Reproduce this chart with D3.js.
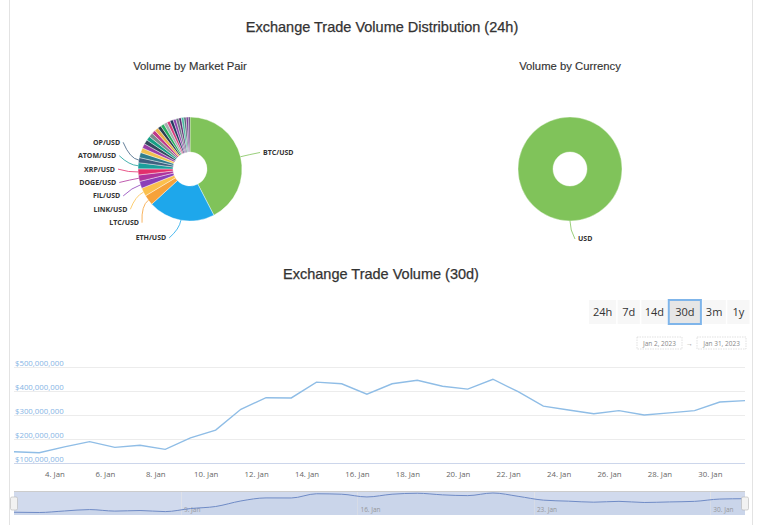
<!DOCTYPE html>
<html lang="en">
<head>
<meta charset="utf-8">
<title>Exchange Trade Volume</title>
<script src="https://cdn.jsdelivr.net/npm/d3@7"></script>
<style>
  body { margin: 0; background: #fff; }
  svg { display: block; font-family: "Open Sans", "Liberation Sans", sans-serif; }
  .title { font-family: "Liberation Sans", Arial, sans-serif; fill: #333; }
  .plabel { font-size: 7px; font-weight: bold; fill: #333; }
</style>
</head>
<body>
<script>
// ---- data ----
var pairNames = ["BTC/USD", "ETH/USD", "LTC/USD", "LINK/USD", "FIL/USD", "DOGE/USD", "XRP/USD", "ATOM/USD", "OP/USD",
  "SOL/USD", "MATIC/USD", "ADA/USD", "DOT/USD", "AVAX/USD", "SHIB/USD", "UNI/USD", "APE/USD", "AAVE/USD", "ALGO/USD",
  "BCH/USD", "XLM/USD", "EOS/USD", "XTZ/USD", "MKR/USD", "COMP/USD", "CRV/USD", "SNX/USD", "GRT/USD", "BAT/USD"];
var pairShare = [42.5, 20.8, 3.2, 2.6, 2.2, 2.0, 1.9, 1.9, 1.6,
  1.6, 1.5, 1.4, 1.4, 1.3, 1.3, 1.2, 1.2, 1.1, 1.1, 1.1, 1.0, 1.0, 0.9, 0.9, 0.8, 0.8, 0.7, 0.7, 0.5];
var pairColors = ["#80c35a", "#1ea7eb", "#f6a23a", "#fbc04d", "#8c3fb8", "#b0349c", "#e22f6c", "#1b9e9b", "#3e5f80",
  "#2f7d8c", "#f2c14e", "#9b3fa6", "#34495e", "#16a085", "#7f8c8d", "#c0398a", "#e8b04a", "#2c3e50", "#27ae60",
  "#a5aeb0", "#d63a7a", "#1f3a5f", "#8e44ad", "#6c7a89", "#5b2c6f", "#48b9a0", "#566573", "#7d3c98", "#4a3b6b"];
var labelledPairs = 9;

var currencyNames = ["USD"];
var currencyShare = [100];
var currencyColors = ["#80c35a"];

var days = d3.range(2, 32);   // Jan 2 .. Jan 31, 2023
var volume = [147, 143, 167, 189, 165, 174, 157, 205, 237, 324, 372, 371, 437, 430, 387, 430, 445, 420, 408, 449,
  397, 337, 321, 305, 318, 300, 309, 318, 354, 360].map(function(v) { return v * 1e6; });
var yTicks = [100e6, 200e6, 300e6, 400e6, 500e6];
var rangeButtons = ["24h", "7d", "14d", "30d", "3m", "1y"];
var selectedButton = "30d";

var dataset = days.map(function(d, i) {
  return { date: new Date(2023, 0, d, 9), value: volume[i] };
});

// ---- canvas ----
var w = 768, h = 525;
var svg = d3.select("body").append("svg").attr("width", w).attr("height", h);

// frame lines
svg.append("line").attr("x1", 9.5).attr("x2", 9.5).attr("y1", 0).attr("y2", h).attr("stroke", "#e3e3e3");
svg.append("line").attr("x1", 752.5).attr("x2", 752.5).attr("y1", 0).attr("y2", h).attr("stroke", "#e3e3e3");

svg.append("text").attr("class", "title").attr("x", 382).attr("y", 32).attr("text-anchor", "middle")
  .style("font-size", "14.5px").style("stroke", "#333").style("stroke-width", 0.25)
  .text("Exchange Trade Volume Distribution (24h)");
svg.append("text").attr("class", "title").attr("x", 190).attr("y", 70).attr("text-anchor", "middle")
  .style("font-size", "11.3px").style("stroke", "#333").style("stroke-width", 0.15)
  .text("Volume by Market Pair");
svg.append("text").attr("class", "title").attr("x", 570).attr("y", 70).attr("text-anchor", "middle")
  .style("font-size", "11.3px").style("stroke", "#333").style("stroke-width", 0.15)
  .text("Volume by Currency");
svg.append("text").attr("class", "title").attr("x", 381).attr("y", 279).attr("text-anchor", "middle")
  .style("font-size", "14.5px").style("stroke", "#333").style("stroke-width", 0.25)
  .text("Exchange Trade Volume (30d)");

// ---- donut helper ----
function drawDonut(cx, cy, names, values, colors, nLabels) {
  var r = 52, r0 = 17, R = 70, Rx = 72, spacing = 13.4;
  var pie = d3.pie().sort(null).value(function(d) { return d; });
  var arcs = pie(values);
  var arc = d3.arc().innerRadius(r0).outerRadius(r);
  var g = svg.append("g").attr("transform", "translate(" + cx + "," + cy + ")");

  g.selectAll("path.slice").data(arcs).enter().append("path")
    .attr("class", "slice")
    .attr("d", arc)
    .attr("fill", function(d, i) { return colors[i]; })
    .attr("stroke", "#fff").attr("stroke-width", 0.4);

  // label layout
  var labels = arcs.slice(0, nLabels).map(function(d, i) {
    var a = (d.startAngle + d.endAngle) / 2;
    return { name: names[i], color: colors[i], a: a, left: a > Math.PI + 1e-6, y: -Math.cos(a) * R };
  });

  [true, false].forEach(function(side) {
    var list = labels.filter(function(l) { return l.left === side; })
      .sort(function(p, q) { return p.y - q.y; });
    // group overlapping labels around the mean of their natural positions
    var groups = list.map(function(l) { return { items: [l], mean: l.y }; });
    var merged = true;
    while (merged) {
      merged = false;
      for (var i = 0; i < groups.length - 1; i++) {
        var A = groups[i], B = groups[i + 1];
        var aEnd = A.mean + (A.items.length - 1) * spacing / 2;
        var bStart = B.mean - (B.items.length - 1) * spacing / 2;
        if (bStart - aEnd < spacing) {
          var items = A.items.concat(B.items);
          var m = d3.mean(items, function(l) { return l.y; });
          groups.splice(i, 2, { items: items, mean: m });
          merged = true;
          break;
        }
      }
    }
    groups.forEach(function(gr) {
      var top = gr.mean - (gr.items.length - 1) * spacing / 2;
      gr.items.forEach(function(l, k) { l.ly = top + k * spacing; });
    });
  });

  labels.forEach(function(l) {
    var dy = Math.max(-Rx * 0.99, Math.min(Rx * 0.99, l.ly));
    // a label straight below the hole stays close to the centre line
    var half = Math.sqrt(Rx * Rx - dy * dy);
    if (Math.abs(Math.sin(l.a)) < 0.05) half = 5;
    var lx = (l.left ? -1 : 1) * half;
    var sx = Math.sin(l.a) * r, sy = -Math.cos(l.a) * r;
    var bx = Math.sin(l.a) * (r + 9), by = -Math.cos(l.a) * (r + 9);
    g.append("path")
      .attr("d", "M" + sx + "," + sy + "Q" + bx + "," + by + " " + lx + "," + l.ly)
      .attr("fill", "none").attr("stroke", l.color).attr("stroke-width", 0.8);
    g.append("text").attr("class", "plabel")
      .attr("x", lx + (l.left ? -3 : 3)).attr("y", l.ly).attr("dy", "0.35em")
      .attr("text-anchor", l.left ? "end" : "start")
      .text(l.name);
  });
}

drawDonut(190, 169, pairNames, pairShare, pairColors, labelledPairs);
drawDonut(570, 169, currencyNames, currencyShare, currencyColors, 1);

// ---- range selector ----
var btnWidths = { "24h": 1.15, "7d": 0.95, "14d": 1.1, "30d": 1.35, "3m": 1.0, "1y": 0.95 };
var totalW = d3.sum(rangeButtons, function(b) { return btnWidths[b]; });
var bx0 = 589;
rangeButtons.forEach(function(b) {
  var bw = btnWidths[b] / totalW * 162 - 1.5;
  var sel = b === selectedButton;
  svg.append("rect").attr("x", bx0).attr("y", 300).attr("width", bw).attr("height", 24)
    .attr("fill", sel ? "#e6e6e6" : "#f7f7f7")
    .attr("stroke", sel ? "#7fb5ea" : "none").attr("stroke-width", sel ? 2 : 0);
  svg.append("text").attr("x", bx0 + bw / 2).attr("y", 316).attr("text-anchor", "middle")
    .style("font-size", "11px").style("fill", "#333").text(b);
  bx0 += bw + 1.5;
});

var fmtInput = d3.timeFormat("%b %-d, %Y");
var inputs = [
  { x: 637, w: 45, text: fmtInput(dataset[0].date) },
  { x: 697, w: 49, text: fmtInput(dataset[dataset.length - 1].date) }
];
inputs.forEach(function(inp) {
  svg.append("rect").attr("x", inp.x).attr("y", 337).attr("width", inp.w).attr("height", 12)
    .attr("fill", "#fff").attr("stroke", "#ccc").attr("stroke-width", 0.6).attr("stroke-dasharray", "1.5,1");
  svg.append("text").attr("x", inp.x + inp.w / 2).attr("y", 345.5).attr("text-anchor", "middle")
    .style("font-size", "6.5px").style("fill", "#888").text(inp.text);
});
svg.append("text").attr("x", 689.5).attr("y", 345.5).attr("text-anchor", "middle")
  .style("font-size", "7px").style("fill", "#999").text("→");

// ---- main line chart ----
var x0 = 14, x1 = 745;
var tScale = d3.scaleTime()
  .domain(d3.extent(dataset, function(d) { return d.date; }))
  .range([x0, x1]);
var yScale = d3.scaleLinear().domain([100e6, 550e6]).range([463, 355]);

svg.selectAll("line.grid").data(yTicks).enter().append("line")
  .attr("class", "grid")
  .attr("x1", x0).attr("x2", x1)
  .attr("y1", function(d) { return Math.round(yScale(d)) + 0.5; })
  .attr("y2", function(d) { return Math.round(yScale(d)) + 0.5; })
  .attr("stroke", function(d, i) { return i === 0 ? "#ccd6eb" : "#ececec"; })
  .attr("stroke-width", 1);

var fmtMoney = d3.format("$,");
svg.selectAll("text.ylab").data(yTicks).enter().append("text")
  .attr("class", "ylab")
  .attr("x", x0 + 1).attr("y", function(d) { return yScale(d) - 1; })
  .style("font-size", "7.8px").style("fill", "#86b5e5")
  .text(function(d) { return fmtMoney(d); });

var tStart = tScale.domain()[0], tEnd = tScale.domain()[1];
var xTicks = d3.timeDay.range(d3.timeDay.ceil(tStart), tEnd).filter(function(d) { return d.getDate() % 2 === 0; });
var fmtTick = d3.timeFormat("%-d. %b");
svg.selectAll("text.xlab").data(xTicks).enter().append("text")
  .attr("class", "xlab")
  .attr("x", function(d) { return tScale(d); }).attr("y", 477)
  .attr("text-anchor", "middle")
  .style("font-size", "7.8px").style("fill", "#666")
  .text(function(d) { return fmtTick(d); });

var line = d3.line()
  .x(function(d) { return tScale(d.date); })
  .y(function(d) { return yScale(d.value); });
svg.append("path").datum(dataset)
  .attr("d", line)
  .attr("fill", "none").attr("stroke", "#8fbde6").attr("stroke-width", 1.4);

// ---- navigator ----
var navTop = 491, navBottom = 515;
var nyScale = d3.scaleLinear()
  .domain(d3.extent(dataset, function(d) { return d.value; }))
  .range([512.5, 493]);
var navTicks = d3.timeMonday.range(tStart, tEnd);

svg.append("rect").attr("x", x0).attr("y", navTop).attr("width", x1 - x0).attr("height", navBottom - navTop)
  .attr("fill", "rgba(102,133,194,0.3)");
svg.selectAll("line.ngrid").data(navTicks).enter().append("line")
  .attr("class", "ngrid")
  .attr("x1", function(d) { return Math.round(tScale(d)) + 0.5; })
  .attr("x2", function(d) { return Math.round(tScale(d)) + 0.5; })
  .attr("y1", navTop).attr("y2", navBottom)
  .attr("stroke", "#e6e6e6").attr("stroke-opacity", 0.6);
svg.selectAll("text.nlab").data(navTicks).enter().append("text")
  .attr("class", "nlab")
  .attr("x", function(d) { return tScale(d) + 3; }).attr("y", 512)
  .style("font-size", "6.5px").style("fill", "#999")
  .text(function(d) { return fmtTick(d); });

var navArea = d3.area().curve(d3.curveMonotoneX)
  .x(function(d) { return tScale(d.date); })
  .y0(navBottom)
  .y1(function(d) { return nyScale(d.value); });
svg.append("path").datum(dataset).attr("d", navArea).attr("fill", "rgba(102,133,194,0.06)");
svg.append("path").datum(dataset).attr("d", navArea.lineY1())
  .attr("fill", "none").attr("stroke", "#6f8bc6").attr("stroke-width", 1);

svg.append("line").attr("x1", x0).attr("x2", x1).attr("y1", navTop + 0.5).attr("y2", navTop + 0.5)
  .attr("stroke", "#cccccc");
[x0, x1].forEach(function(hx) {
  svg.append("rect").attr("x", hx - 3.5).attr("y", 497).attr("width", 7).attr("height", 13).attr("rx", 1.5)
    .attr("fill", "#f2f2f2").attr("stroke", "#b5b5b5").attr("stroke-width", 0.6);
});
</script>
</body>
</html>
